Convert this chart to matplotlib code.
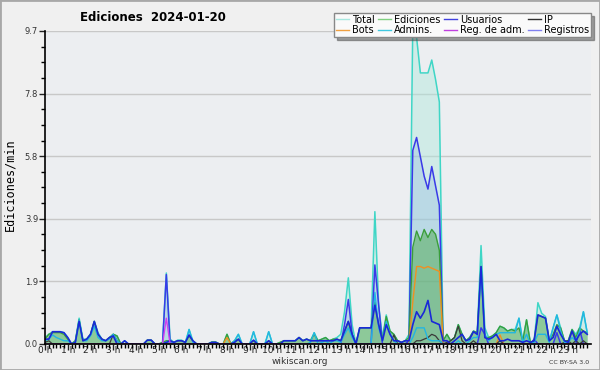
import numpy as np
import matplotlib.pyplot as plt
from matplotlib.lines import Line2D
from matplotlib.patches import Rectangle

# values every 10 minutes (144 per day), two hours per row
total = [0.2, 0.3, 0.38, 0.38, 0.38, 0.35,  0.2, 0.0, 0.1, 0.8, 0.15, 0.15,
         0.3, 0.7, 0.35, 0.15, 0.1, 0.2,  0.3, 0.25, 0.0, 0.1, 0.0, 0.0,
         0.0, 0.0, 0.0, 0.12, 0.12, 0.0,  0.0, 0.05, 2.2, 0.15, 0.05, 0.12,
         0.12, 0.05, 0.45, 0.1, 0.0, 0.0,  0.0, 0.0, 0.06, 0.06, 0.0, 0.0,
         0.3, 0.0, 0.1, 0.3, 0.0, 0.0,  0.0, 0.38, 0.0, 0.0, 0.0, 0.38,
         0.0, 0.0, 0.05, 0.1, 0.1, 0.1,  0.1, 0.2, 0.1, 0.15, 0.1, 0.35,
         0.1, 0.15, 0.2, 0.1, 0.15, 0.2,  0.3, 1.0, 2.05, 0.6, 0.0, 0.5,
         0.5, 0.5, 0.5, 4.1, 1.2, 0.2,  0.9, 0.4, 0.3, 0.1, 0.05, 0.1,
         0.3, 9.9, 9.5, 8.4, 8.4, 8.4,  8.8, 8.2, 7.5, 0.1, 0.3, 0.1,
         0.2, 0.6, 0.3, 0.1, 0.2, 0.4,  0.35, 3.05, 0.5, 0.2, 0.25, 0.35,
         0.55, 0.5, 0.4, 0.45, 0.45, 0.8,  0.1, 0.75, 0.05, 0.1, 1.28, 0.95,
         0.85, 0.1, 0.5, 0.9, 0.5, 0.1,  0.1, 0.45, 0.3, 0.5, 1.0, 0.35]

ediciones = [0.15, 0.3, 0.35, 0.35, 0.35, 0.3,  0.15, 0.0, 0.1, 0.75, 0.1, 0.15,
             0.3, 0.7, 0.3, 0.15, 0.1, 0.2,  0.3, 0.25, 0.0, 0.0, 0.0, 0.0,
             0.0, 0.0, 0.0, 0.12, 0.12, 0.0,  0.0, 0.05, 0.1, 0.1, 0.05, 0.1,
             0.1, 0.05, 0.25, 0.1, 0.0, 0.0,  0.0, 0.0, 0.06, 0.06, 0.0, 0.0,
             0.3, 0.0, 0.1, 0.15, 0.0, 0.0,  0.0, 0.1, 0.0, 0.0, 0.0, 0.1,
             0.0, 0.0, 0.05, 0.1, 0.1, 0.1,  0.1, 0.2, 0.1, 0.15, 0.1, 0.3,
             0.1, 0.15, 0.2, 0.1, 0.15, 0.15,  0.1, 0.4, 0.7, 0.3, 0.0, 0.5,
             0.5, 0.5, 0.5, 1.3, 0.6, 0.15,  0.85, 0.4, 0.3, 0.1, 0.05, 0.1,
             0.2, 3.0, 3.5, 3.2, 3.55, 3.3,  3.55, 3.4, 2.9, 0.1, 0.3, 0.1,
             0.2, 0.6, 0.3, 0.1, 0.2, 0.4,  0.35, 2.4, 0.2, 0.2, 0.25, 0.35,
             0.55, 0.5, 0.4, 0.45, 0.4, 0.5,  0.1, 0.75, 0.05, 0.1, 0.9, 0.85,
             0.8, 0.1, 0.3, 0.6, 0.5, 0.1,  0.1, 0.45, 0.2, 0.5, 0.4, 0.35]

usuarios = [0.15, 0.15, 0.38, 0.38, 0.38, 0.35,  0.2, 0.0, 0.05, 0.7, 0.1, 0.15,
            0.3, 0.7, 0.3, 0.15, 0.1, 0.2,  0.25, 0.0, 0.0, 0.1, 0.0, 0.0,
            0.0, 0.0, 0.0, 0.12, 0.12, 0.0,  0.0, 0.0, 0.05, 0.1, 0.05, 0.1,
            0.1, 0.05, 0.28, 0.1, 0.0, 0.0,  0.0, 0.0, 0.05, 0.05, 0.0, 0.0,
            0.0, 0.0, 0.05, 0.15, 0.0, 0.0,  0.0, 0.12, 0.0, 0.0, 0.0, 0.1,
            0.0, 0.0, 0.0, 0.1, 0.1, 0.1,  0.1, 0.2, 0.1, 0.15, 0.1, 0.1,
            0.1, 0.1, 0.1, 0.1, 0.1, 0.15,  0.1, 0.4, 0.7, 0.3, 0.0, 0.5,
            0.5, 0.5, 0.5, 1.2, 0.6, 0.1,  0.6, 0.3, 0.1, 0.1, 0.05, 0.1,
            0.1, 0.6, 1.0, 0.8, 1.0, 1.35,  0.7, 0.65, 0.6, 0.1, 0.1, 0.0,
            0.1, 0.2, 0.3, 0.1, 0.15, 0.38,  0.3, 2.4, 0.2, 0.15, 0.2, 0.3,
            0.1, 0.1, 0.15, 0.1, 0.1, 0.1,  0.05, 0.1, 0.05, 0.1, 0.9, 0.85,
            0.8, 0.1, 0.2, 0.55, 0.3, 0.1,  0.05, 0.4, 0.1, 0.3, 0.4, 0.3]

admins = [0.1, 0.15, 0.28, 0.2, 0.15, 0.1,  0.1, 0.0, 0.05, 0.75, 0.1, 0.1,
          0.25, 0.55, 0.2, 0.1, 0.1, 0.15,  0.3, 0.1, 0, 0, 0, 0,
          0, 0, 0, 0, 0, 0,  0, 0, 0.05, 0.1, 0, 0,
          0, 0, 0.45, 0.05, 0, 0,  0, 0, 0, 0, 0, 0,
          0, 0, 0.1, 0.3, 0, 0,  0, 0.38, 0, 0, 0, 0.38,
          0, 0, 0, 0, 0, 0,  0, 0, 0, 0, 0.05, 0.35,
          0, 0.05, 0.1, 0, 0.1, 0.1,  0.05, 0.3, 0.5, 0.2, 0, 0,
          0, 0, 0, 1.6, 0.5, 0.1,  0.7, 0.3, 0.1, 0, 0, 0,
          0, 0.2, 0.5, 0.5, 0.5, 0.15,  0.1, 0.1, 0.1, 0, 0, 0,
          0, 0.1, 0, 0, 0.1, 0.2,  0.2, 2.3, 0.3, 0.1, 0.2, 0.3,
          0.35, 0.35, 0.35, 0.35, 0.35, 0.8,  0.05, 0.3, 0, 0.05, 0.3, 0.3,
          0.3, 0.05, 0.5, 0.9, 0.4, 0.05,  0.05, 0.2, 0.1, 0.4, 1.0, 0.35]

registros = [0] * 32 + [2.15] + [0] * 46 + [0.6, 1.38, 0.3] + [0] * 5 + [2.45, 1.2] + [0] * 7 + \
            [0.1, 6.0, 6.4, 5.8, 5.2, 4.8, 5.5, 4.9, 4.3] + [0] * 10 + [0.5, 0.3] + [0] * 12 + \
            [0.15] + [0] * 5 + [0.35] + [0] * 5 + [0.45, 0, 0]

ip = [0.05, 0.1] + [0] * 16 + [0.3, 0.1] + [0] * 72 + [0.28] + [0] * 3 + \
     [0, 0, 0.1, 0.1, 0.15, 0.2, 0.3, 0.25, 0.1, 0.0, 0.05, 0.1, 0.2, 0.55, 0.1, 0, 0, 0.1] + \
     [0] * 6 + [0.1] + [0] * 16 + [0.05, 0.1, 0, 0.1, 0, 0.1, 0]

bots = [0] * 48 + [0.2] + [0] * 48 + [1.3, 2.4, 2.4, 2.35, 2.4, 2.35, 2.3, 2.25] + [0] * 15 + \
       [0.28] + [0] * 23

reg_adm = [0] * 32 + [0.8] + [0] * 111

t = np.arange(144) / 6.0

fig = plt.figure(figsize=(6, 3.7), dpi=100, facecolor='#f0f0f0')
fig.patches.append(Rectangle((0, 0), 1, 1, transform=fig.transFigure, fill=False,
                             edgecolor='#a8a8a8', linewidth=2))
ax = fig.add_axes([0.075, 0.0703, 0.91, 0.846], facecolor='#eceef1')

ax.fill_between(t, total, color='#aee8dc', alpha=0.45, linewidth=0)
ax.fill_between(t, registros, color='#7aa4e0', alpha=0.25, linewidth=0)
ax.fill_between(t, ediciones, color='#4ca84c', alpha=0.5, linewidth=0)

ax.plot(t, total, color='#3fd6c6', lw=1.1)
ax.plot(t, registros, color='#3a3ae8', lw=1.1)
ax.plot(t, ediciones, color='#3a9e3a', lw=1.0)
ax.plot(t, bots, color='#f09020', lw=1.0)
ax.plot(t, ip, color='#3a3a3a', lw=0.9)
ax.plot(t, admins, color='#22b6e2', lw=1.0)
ax.plot(t, usuarios, color='#1a28d8', lw=1.2)
ax.plot(t, reg_adm, color='#d040f0', lw=1.0)

ymax = 9.7
ax.set_xlim(0, 24)
ax.set_ylim(0, ymax)
yt = np.linspace(0, ymax, 6)
ax.set_yticks(yt)
ax.set_yticklabels(['%.1f' % v for v in yt])
ax.set_yticks(np.linspace(0, ymax, 21), minor=True)
ax.set_xticks(range(24))
ax.set_xticklabels(['%d h' % h for h in range(24)])
ax.set_xticks(np.arange(0, 24, 1 / 6.0), minor=True)
ax.grid(axis='y', color='#c8c8c8', linewidth=1)
ax.set_axisbelow(True)
for s in ['top', 'right']:
    ax.spines[s].set_visible(False)
for s in ['left', 'bottom']:
    ax.spines[s].set_linewidth(1.2)
ax.tick_params(axis='both', which='major', length=4, width=1, labelsize=6.5, pad=1,
               colors='#222222')
ax.tick_params(axis='x', which='major', pad=-2.5)
ax.tick_params(axis='both', which='minor', length=3, width=1)
ax.tick_params(axis='y', labelsize=6, labelcolor='#333333')

fig.text(0.255, 0.952, 'Ediciones  2024-01-20', ha='center', va='center',
         fontsize=8.5, fontweight='bold')
fig.text(0.017, 0.5, 'Ediciones/min', rotation=90, ha='center', va='center',
         fontsize=8.5, family='DejaVu Sans Mono')
fig.text(0.5, 0.024, 'wikiscan.org', ha='center', va='center', fontsize=6.5,
         color='#333333')
fig.text(0.982, 0.02, 'CC BY-SA 3.0', ha='right', va='center', fontsize=4.5,
         color='#333333')

names = ['Total', 'Bots', 'Ediciones', 'Admins.', 'Usuarios', 'Reg. de adm.', 'IP', 'Registros']
cols = ['#a8e8e0', '#f0a040', '#80d080', '#40c8e0', '#4040e0', '#c040e0', '#303030', '#8080f0']
handles = [Line2D([], [], color=c, lw=1) for c in cols]
leg = fig.legend(handles, names, ncol=4, loc='upper right', bbox_to_anchor=(0.985, 0.965),
                 fontsize=7, frameon=True, fancybox=False, shadow=True, handlelength=1.3,
                 handletextpad=0.3, columnspacing=0.4, labelspacing=0.05, borderpad=0.2,
                 borderaxespad=0)
leg.get_frame().set_facecolor('#fafafa')
leg.get_frame().set_edgecolor('#888888')

fig.savefig('out.png', dpi=100, facecolor=fig.get_facecolor())
